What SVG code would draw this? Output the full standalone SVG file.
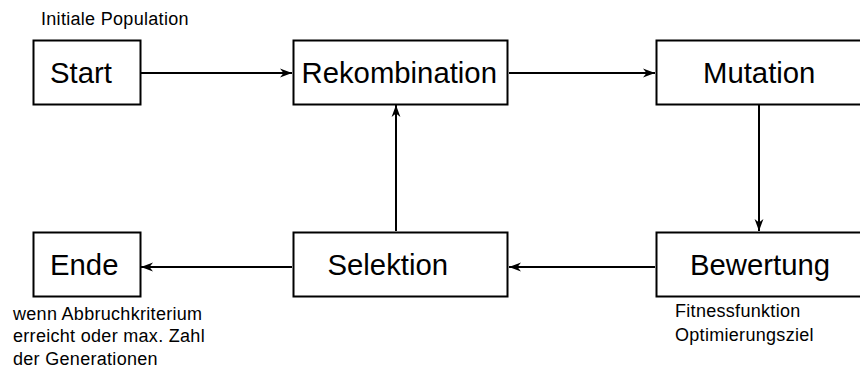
<svg xmlns="http://www.w3.org/2000/svg" width="860" height="369" viewBox="0 0 860 369">
  <style>
    .box { fill: #ffffff; stroke: #000000; stroke-width: 2; }
    .big { font-family: "Liberation Sans", Arial, sans-serif; font-size: 29.3px; fill: #000000; }
    .note { font-family: "Liberation Sans", Arial, sans-serif; font-size: 18px; letter-spacing: 0.3px; fill: #000000; }
    .edge { fill: none; stroke: #000000; stroke-width: 2; }
  </style>
  <defs>
    <marker id="arrow" markerUnits="userSpaceOnUse" markerWidth="12" markerHeight="10" viewBox="0 0 12 10" refX="12" refY="5" orient="auto">
      <path d="M0,0.6 L12,5 L0,9.4 L3.5,5 Z" fill="#000000"/>
    </marker>
  </defs>
  <rect width="860" height="369" fill="#ffffff"/>

  <!-- connectors -->
  <g id="connectors">
    <line class="edge" x1="141" y1="73" x2="292" y2="73" marker-end="url(#arrow)"/>
    <line class="edge" x1="509" y1="73" x2="655" y2="73" marker-end="url(#arrow)"/>
    <line class="edge" x1="759" y1="105" x2="759" y2="231" marker-end="url(#arrow)"/>
    <line class="edge" x1="655" y1="267" x2="509" y2="267" marker-end="url(#arrow)"/>
    <line class="edge" x1="292" y1="267" x2="141" y2="267" marker-end="url(#arrow)"/>
    <line class="edge" x1="396" y1="231" x2="396" y2="105" marker-end="url(#arrow)"/>
  </g>

  <!-- nodes -->
  <g id="start">
    <rect class="box" x="33.5" y="40.5" width="107" height="64"/>
    <text class="big" x="50" y="83">Start</text>
    <text class="note" x="41" y="25">Initiale Population</text>
  </g>
  <g id="rekombination">
    <rect class="box" x="293.5" y="40.5" width="214" height="64"/>
    <text class="big" x="301.5" y="83">Rekombination</text>
  </g>
  <g id="mutation">
    <rect class="box" x="656.5" y="40.5" width="206" height="64"/>
    <text class="big" x="703" y="83">Mutation</text>
  </g>
  <g id="bewertung">
    <rect class="box" x="656.5" y="232.5" width="206" height="64"/>
    <text class="big" x="690" y="275">Bewertung</text>
    <text class="note" x="675" y="317">Fitnessfunktion</text>
    <text class="note" x="675" y="341">Optimierungsziel</text>
  </g>
  <g id="selektion">
    <rect class="box" x="293.5" y="232.5" width="214" height="64"/>
    <text class="big" x="327.5" y="275">Selektion</text>
  </g>
  <g id="ende">
    <rect class="box" x="33.5" y="232.5" width="107" height="64"/>
    <text class="big" x="50" y="275">Ende</text>
    <text class="note" x="13" y="319.5">wenn Abbruchkriterium</text>
    <text class="note" x="13" y="342">erreicht oder max. Zahl</text>
    <text class="note" x="13" y="364.5">der Generationen</text>
  </g>
</svg>
